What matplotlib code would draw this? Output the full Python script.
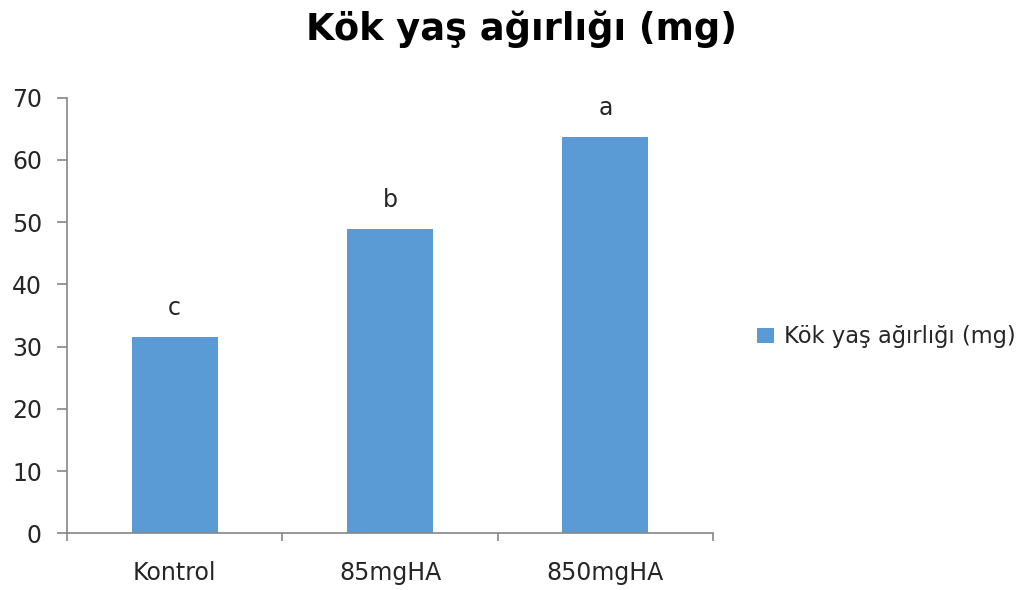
import matplotlib
matplotlib.use("Agg")
import matplotlib.pyplot as plt

categories = ["Kontrol", "85mgHA", "850mgHA"]
values = [31.6, 48.9, 63.7]
letters = ["c", "b", "a"]
series_name = "Kök yaş ağırlığı (mg)"
title = "Kök yaş ağırlığı (mg)"
yticks = [0, 10, 20, 30, 40, 50, 60, 70]

plt.rcParams["font.family"] = ["DejaVu Sans"]

bar_color = "#5B9BD5"
axis_color = "#868686"
text_color = "#262626"

fig = plt.figure(figsize=(10.26, 5.90), dpi=100)
ax = fig.add_axes([0.0653, 0.0961, 0.6297, 0.7383])

x = list(range(len(categories)))
bars = ax.bar(x, values, width=0.4, color=bar_color, label=series_name, zorder=2)

for xi, v, lt in zip(x, values, letters):
    ax.annotate(lt, (xi, v), xytext=(0, 15.6), textcoords="offset points",
                ha="center", va="baseline", fontsize=17, color=text_color)

ax.set_xlim(-0.5, len(categories) - 0.5)
ax.set_ylim(0, 70)
ax.set_yticks(yticks)
ax.set_xticks(x)
ax.set_xticklabels(categories)
# category boundary ticks on the x axis
ax.set_xticks([-0.5, 0.5, 1.5, 2.5], minor=True)
ax.tick_params(axis="x", which="major", length=0, pad=20, labelsize=17, labelcolor=text_color)
ax.tick_params(axis="x", which="minor", length=6, width=1.2, color=axis_color, direction="out")
ax.tick_params(axis="y", length=7, width=1.2, color=axis_color, direction="out", pad=11,
               labelsize=17, labelcolor=text_color)

for side in ["top", "right"]:
    ax.spines[side].set_visible(False)
for side in ["left", "bottom"]:
    ax.spines[side].set_color(axis_color)
    ax.spines[side].set_linewidth(1.2)

fig.text(0.508, 0.933, title, ha="center", va="baseline", fontsize=26.5,
         fontweight="bold", color="black")

leg = fig.legend(handles=[bars], labels=[series_name], loc="center left",
                 bbox_to_anchor=(0.718, 0.429), frameon=False, fontsize=16.3,
                 handlelength=0.75, handleheight=0.62, handletextpad=0.44)
for t in leg.get_texts():
    t.set_color(text_color)

fig.savefig("out.png", dpi=100, facecolor="white")
